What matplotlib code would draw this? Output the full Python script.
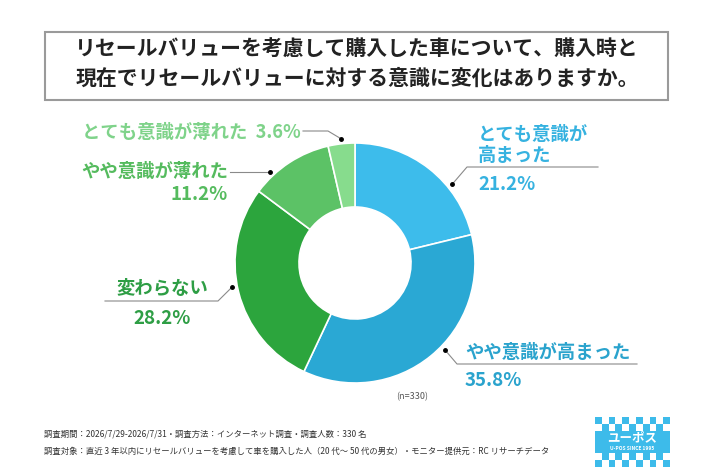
"""
リセールバリュー意識の変化 ドーナツグラフ
"""

import matplotlib.pyplot as plt
import numpy as np
from matplotlib.patches import Rectangle

plt.rcParams['font.family'] = ['Noto Sans CJK JP', 'DejaVu Sans']

# データ
labels = ['とても意識が\n高まった', 'やや意識が高まった', '変わらない', 'やや意識が薄れた', 'とても意識が薄れた']
values = [21.2, 35.8, 28.2, 11.2, 3.6]
colors = ['#3dbceb', '#2aa8d4', '#2ca53d', '#5cc266', '#87dc8d']
text_colors = ['#36b2e0', '#2aa3cd', '#2e9e45', '#55bb5e', '#7fd38a']
n_total = 330

title = 'リセールバリューを考慮して購入した車について、購入時と\n現在でリセールバリューに対する意識に変化はありますか。'
note1 = '調査期間：2026/7/29-2026/7/31・調査方法：インターネット調査・調査人数：330 名'
note2 = '調査対象：直近 3 年以内にリセールバリューを考慮して車を購入した人（20 代～ 50 代の男女）・モニター提供元：RC リサーチデータ'

W, H = 710, 474
fig = plt.figure(figsize=(W / 100, H / 100), dpi=100)
ax = fig.add_axes([0, 0, 1, 1])
ax.set_xlim(0, W)
ax.set_ylim(0, H)
ax.axis('off')


def Y(y):
    # 画像座標(上から)→データ座標
    return H - y


# タイトル枠
ax.add_patch(Rectangle((45, Y(100)), 623, 68, fill=False, edgecolor='#9a9a9a', linewidth=1.5))
ax.text(357, Y(64), title, ha='center', va='center', fontsize=15, fontweight='bold',
        color='#222222', linespacing=1.45)

# ドーナツ
cx, cy, R = 355, Y(263), 120
ax.pie(values, colors=colors, startangle=90, counterclock=False, radius=R, center=(cx, cy),
       wedgeprops=dict(width=64, edgecolor='white', linewidth=1.2))
ax.set_xlim(0, W)
ax.set_ylim(0, H)
ax.set_aspect('auto')

# 引き出し線
dot_ang = [39, -44, 191, 133, 96.4]
bends = [(467, 167), (457, 364), (218, 301), None, (328, 131)]
ends = [598, 637, 105, 230, 303]
for i in range(len(values)):
    a = np.deg2rad(dot_ang[i])
    px, py = cx + (R + 5) * np.cos(a), cy + (R + 5) * np.sin(a)
    if bends[i] is None:
        xs, ys = [px, ends[i]], [py, py]
    else:
        bx, by = bends[i]
        xs, ys = [px, bx, ends[i]], [py, Y(by), Y(by)]
    ax.plot(xs, ys, color='#8a8a8a', linewidth=0.8)
    ax.plot(px, py, 'o', color='black', markersize=2.5)

fs = 13.2
pfs = 13.5
# とても意識が高まった
ax.text(478, Y(145), labels[0], ha='left', va='center', fontsize=fs, fontweight='bold',
        color=text_colors[0], linespacing=1.1)
ax.text(478, Y(184), f'{values[0]}%', ha='left', va='center', fontsize=pfs,
        fontweight='bold', color=text_colors[0])
# やや意識が高まった
ax.text(465, Y(352), labels[1], ha='left', va='center', fontsize=fs, fontweight='bold',
        color=text_colors[1])
ax.text(465, Y(381), f'{values[1]}%', ha='left', va='center', fontsize=pfs,
        fontweight='bold', color=text_colors[1])
# 変わらない
ax.text(162, Y(288), labels[2], ha='center', va='center', fontsize=fs, fontweight='bold',
        color=text_colors[2])
ax.text(162, Y(318), f'{values[2]}%', ha='center', va='center', fontsize=pfs,
        fontweight='bold', color=text_colors[2])
# やや意識が薄れた
ax.text(228, Y(171), labels[3], ha='right', va='center', fontsize=fs, fontweight='bold',
        color=text_colors[3])
ax.text(228, Y(194), f'{values[3]}%', ha='right', va='center', fontsize=pfs,
        fontweight='bold', color=text_colors[3])
# とても意識が薄れた
ax.text(301, Y(132), f'{labels[4]}  {values[4]}%', ha='right', va='center', fontsize=fs,
        fontweight='bold', color=text_colors[4])

ax.text(412, Y(397), f'(n={n_total})', ha='center', va='center', fontsize=6.5, color='#555555')

# 注記
ax.text(44, Y(434), note1, ha='left', va='center', fontsize=6, color='#333333')
ax.text(44, Y(451), note2, ha='left', va='center', fontsize=6, color='#333333')

# ロゴ
lx, ly, lw, lh = 595, Y(467), 75, 50
logo_blue = '#3dbbea'
sq = lw / 11
ax.add_patch(Rectangle((lx, ly + 2 * sq), lw, lh - 4 * sq, color=logo_blue, linewidth=0))
for r in range(2):
    for c in range(11):
        if (r + c) % 2 == 0:
            ax.add_patch(Rectangle((lx + c * sq, ly + r * sq), sq, sq, color=logo_blue, linewidth=0))
            ax.add_patch(Rectangle((lx + c * sq, ly + lh - (r + 1) * sq), sq, sq,
                                   color=logo_blue, linewidth=0))
ax.text(lx + lw / 2, ly + lh / 2 + 4, 'ユーポス', ha='center', va='center', fontsize=9,
        fontweight='bold', color='white')
ax.text(lx + lw / 2, ly + lh / 2 - 7, 'U-POS SINCE 1995', ha='center', va='center',
        fontsize=3.5, fontweight='bold', color='white')

fig.savefig('out.png', dpi=100)
